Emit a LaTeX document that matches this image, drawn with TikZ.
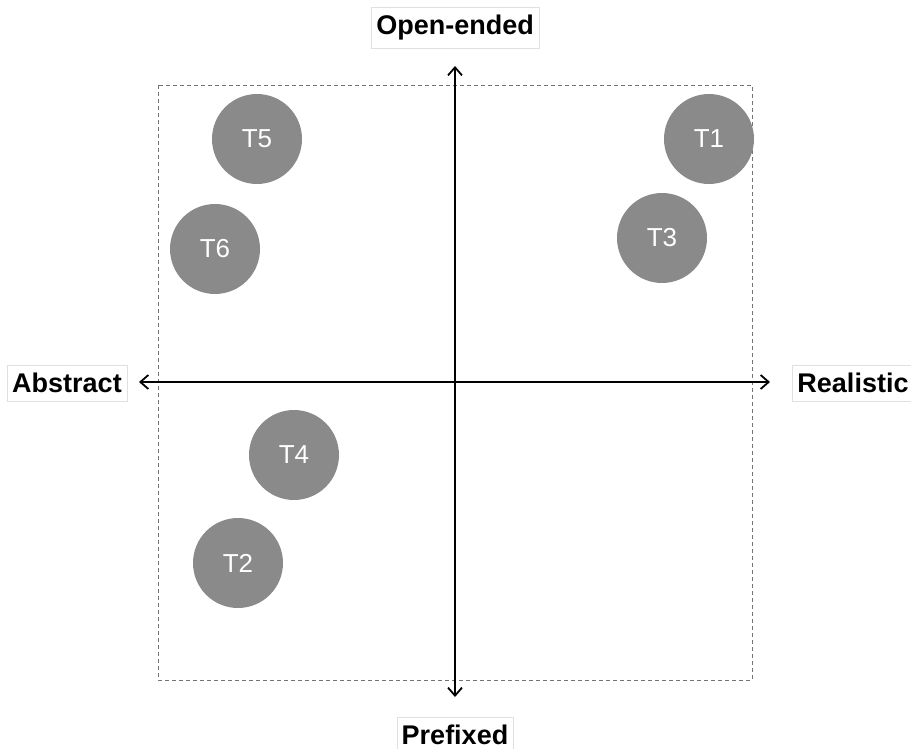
\documentclass[tikz,border=0pt]{standalone}
\usepackage{fontspec}
\setmainfont{Liberation Sans}
\usetikzlibrary{arrows.meta}

\tikzset{
    topic/.style={circle, fill=black!46, text=white, minimum size=90pt, inner sep=0pt, font=\fontsize{26}{26}\selectfont},
    axislabel/.style={draw=black!12, fill=white, inner xsep=5pt, inner ysep=8pt, font=\bfseries\fontsize{27}{27}\selectfont},
    axisarrow/.style={line width=1.8pt, {Straight Barb[length=8pt,width=14pt]}-{Straight Barb[length=8pt,width=14pt]}},
}

\begin{document}
\begin{tikzpicture}[x=1pt, y=-1pt]
    \useasboundingbox (0,0) rectangle (911,749);

    \draw[black!55, dash pattern=on 4pt off 3pt] (158,85) rectangle (752,680);

    \coordinate (top) at (455,66);
    \coordinate (bottom) at (455,697);
    \coordinate (left) at (139,382);
    \coordinate (right) at (770,382);
    \draw[axisarrow] (left) -- (right);
    \draw[axisarrow] (bottom) -- (top);

    \node[axislabel] (open) at (455,28) {Open-ended};
    \node[axislabel] (prefixed) at (455,735) {Prefixed};
    \node[axislabel] (abstract) at (67,383) {Abstract};
    \node[axislabel] (realistic) at (853,383) {Realistic};

    \node[topic] (t1) at (709,139) {T1};
    \node[topic] (t3) at (662,238) {T3};
    \node[topic] (t5) at (257,139) {T5};
    \node[topic] (t6) at (215,249) {T6};
    \node[topic] (t4) at (294,455) {T4};
    \node[topic] (t2) at (238,563) {T2};
\end{tikzpicture}
\end{document}
